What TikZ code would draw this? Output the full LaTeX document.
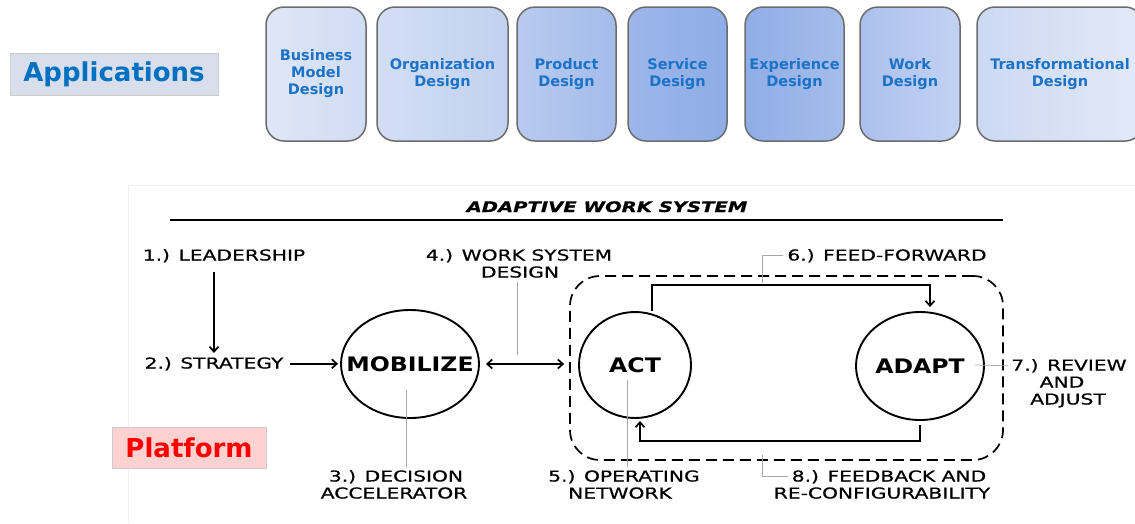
\documentclass[tikz,border=0pt]{standalone}
\usepackage{fontspec}
\setmainfont{DejaVu Sans}
\newfontfamily\handfont[FakeStretch=1.35, FakeBold=0.6]{DejaVu Sans}
\newfontfamily\stagefont[FakeStretch=1.18]{DejaVu Sans}
\usetikzlibrary{arrows.meta, positioning, shapes.geometric}
\definecolor{appblue}{HTML}{1B72C6}
\definecolor{tagblue}{HTML}{0070C0}
\definecolor{tagfill}{HTML}{D9DEEC}
\definecolor{bmdL}{HTML}{DFE6F6}\definecolor{bmdR}{HTML}{D0DCF4}
\definecolor{odL}{HTML}{D3DEF5}\definecolor{odR}{HTML}{C2D1F0}
\definecolor{pdL}{HTML}{B8CAEF}\definecolor{pdR}{HTML}{A4BBEA}
\definecolor{sdL}{HTML}{9CB6EA}\definecolor{sdR}{HTML}{8EADE6}
\definecolor{edL}{HTML}{8FADE6}\definecolor{edR}{HTML}{A6BDEB}
\definecolor{wdL}{HTML}{ABC0ED}\definecolor{wdR}{HTML}{C3D2F3}
\definecolor{tdL}{HTML}{CCD9F3}\definecolor{tdR}{HTML}{E3E9F7}
\tikzset{
    >={Straight Barb[length=5pt,width=9pt]}, % open arrow heads like the sketch
    appbox/.style={draw=gray!85!black, line width=1.5pt, rounded corners=18pt,
        minimum height=134pt, align=center, text=appblue,
        font=\bfseries\fontsize{14.5}{17}\selectfont}, % the design boxes on top
    tag/.style={draw=gray!40, inner sep=0pt, font=\bfseries\fontsize{26}{26}\selectfont}, % the two section labels
    stage/.style={ellipse, draw, line width=1.9pt, inner xsep=-20pt, inner ysep=0pt,
        font=\stagefont\bfseries\fontsize{20}{20}\selectfont}, % MOBILIZE, ACT, ADAPT
    hand/.style={anchor=base, inner sep=0pt, font=\handfont\fontsize{15}{17}\selectfont}, % sketch labels
    flow/.style={line width=1.7pt}, % sketch arrows
    leader/.style={gray!70, line width=0.7pt}, % thin pointers from labels
}
\begin{document}
\begin{tikzpicture}[x=1pt, y=-1pt]
    \useasboundingbox (0,0) rectangle (1135,523);

    % applications row
    \node[tag, fill=tagfill, text=tagblue, minimum width=208pt, minimum height=42pt] (apps) at (114,74) {Applications};
    \node[appbox, left color=bmdL, right color=bmdR, minimum width=100pt] (bmd) at (316,74) {Business\\Model\\Design};
    \node[appbox, left color=odL, right color=odR, minimum width=131pt] (od) at (442.5,74) {Organization\\Design};
    \node[appbox, left color=pdL, right color=pdR, minimum width=99pt] (pd) at (566.5,74) {Product\\Design};
    \node[appbox, left color=sdL, right color=sdR, minimum width=99pt] (sd) at (677.5,74) {Service\\Design};
    \node[appbox, left color=edL, right color=edR, minimum width=99pt] (ed) at (794.5,74) {Experience\\Design};
    \node[appbox, left color=wdL, right color=wdR, minimum width=100pt] (wd) at (910,74) {Work\\Design};
    \node[appbox, left color=tdL, right color=tdR, minimum width=166pt] (td) at (1060,74) {Transformational\\Design};

    % faint frame of the sketch
    \draw[gray!12, line width=0.8pt] (128,523) -- (128,185) -- (1135,185);

    % title
    \node[hand, font=\handfont\bfseries\itshape\fontsize{14.5}{17}\selectfont] (title) at (607,212) {ADAPTIVE WORK SYSTEM};
    \draw[flow] (170,220) -- (1003,220);

    % operating system box
    \node[draw, dashed, dash pattern=on 11pt off 6pt, line width=1.7pt, rounded corners=30pt,
        minimum width=433pt, minimum height=184pt] (sys) at (786.5,368) {};

    % stages
    \node[stage, minimum width=138pt, minimum height=108pt] (mob) at (410,364) {MOBILIZE};
    \node[stage, minimum width=112pt, minimum height=106pt] (act) at (635,365) {ACT};
    \node[stage, minimum width=128pt, minimum height=108pt] (adapt) at (920,366) {ADAPT};

    % labels
    \node[hand] (lead) at (224,260.5) {1.) LEADERSHIP};
    \node[hand] (strat) at (214,368.5) {2.) STRATEGY};
    \node[hand] (dec1) at (396,481.5) {3.) DECISION};
    \node[hand] (dec2) at (394,498.5) {ACCELERATOR};
    \node[hand] (ws1) at (519,260.5) {4.) WORK SYSTEM};
    \node[hand] (ws2) at (520,277.5) {DESIGN};
    \node[hand] (op1) at (624,481.5) {5.) OPERATING};
    \node[hand] (op2) at (620,498.5) {NETWORK};
    \node[hand] (ff) at (887,260.5) {6.) FEED-FORWARD};
    \node[hand] (rev1) at (1069,370.5) {7.) REVIEW};
    \node[hand] (rev2) at (1062,387.5) {AND};
    \node[hand] (rev3) at (1068,404.5) {ADJUST};
    \node[hand] (fb1) at (889,481.5) {8.) FEEDBACK AND};
    \node[hand] (fb2) at (882,498.5) {RE-CONFIGURABILITY};

    \node[tag, fill=red!18, text=red, minimum width=154pt, minimum height=41pt] (plat) at (189,447.5) {Platform};

    % turning points
    \coordinate (ffl) at (652,285);
    \coordinate (ffr) at (930,285);
    \coordinate (fbr) at (920,441);
    \coordinate (fbl) at (640,441);
    \coordinate (wsend) at (517,355);
    \coordinate (decend) at (406,390);
    \coordinate (opend) at (627,380);
    \coordinate (ffend) at (762,283);
    \coordinate (fbend) at (762,455);
    \coordinate (revend) at (975,365);

    % arrows
    \draw[flow, ->] (lead.south -| strat.north) ++(0,9) -- ([yshift=4pt]strat.north);
    \draw[flow, ->, shorten >=2pt] ([xshift=6pt]strat.east) -- (mob.west |- strat.east);
    \draw[flow, <->, shorten <=6pt, shorten >=5pt] (mob.east) -- (sys.west |- mob.east);
    \draw[flow, ->, shorten >=4pt] (act.north -| ffl) -- (ffl) -- (ffr) -- (adapt.north -| ffr);
    \draw[flow, ->, shorten <=4pt, shorten >=2pt] (adapt.south -| fbr) -- (fbr) -- (fbl) -- (act.south -| fbl);

    % leaders
    \draw[leader] ([yshift=-4pt]ws2.south -| wsend) -- (wsend);
    \draw[leader] (decend) -- ([yshift=3pt]dec1.north -| decend);
    \draw[leader] (opend) -- ([yshift=3pt]op1.north -| opend);
    \draw[leader] (ffend) |- ([xshift=-4pt]ff.west);
    \draw[leader] (fbend) |- ([xshift=-4pt]fb1.west);
    \draw[leader] (revend) -- ([xshift=-3pt]rev1.west);
\end{tikzpicture}
\end{document}
